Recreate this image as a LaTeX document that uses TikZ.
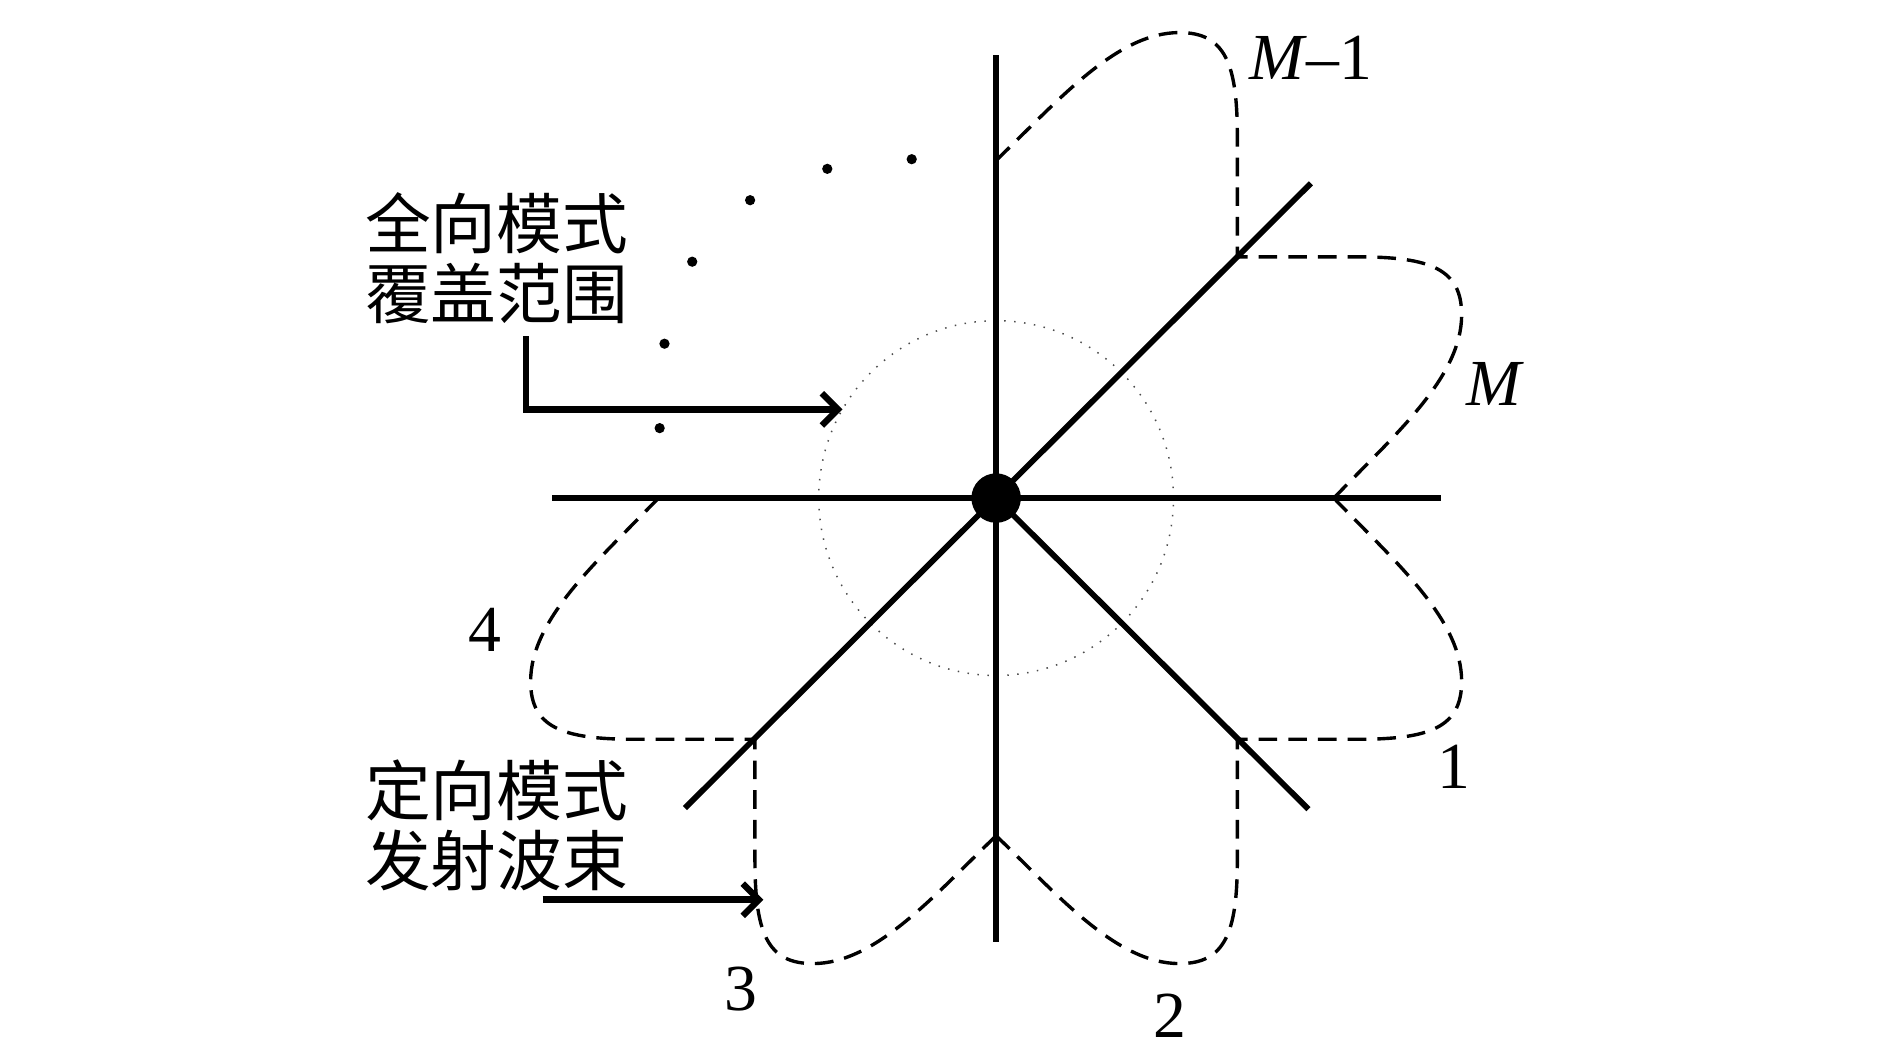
\documentclass[tikz,border=0pt]{standalone}
\usepackage{fontspec}
\setmainfont{Liberation Serif}
\newfontfamily\cjkfont{Noto Sans CJK SC}
\usetikzlibrary{arrows.meta}
\newcommand\lobepath{(280,0) .. controls (330,-52) and (386,-100) .. (386,-152) .. controls (386,-190) and (360,-200) .. (300,-200) -- (200,-200)}
\begin{document}
\begin{tikzpicture}[x=0.01cm,y=0.01cm,
  axis/.style={line width=1.35pt},
  lobe/.style={line width=0.8pt, dash pattern=on 4.4pt off 2.6pt},
  covstyle/.style={circle, draw=black!70, line width=0.35pt, dotted, minimum size=2.94cm, inner sep=0pt, outer sep=0pt},
  hub/.style={circle, fill=black, minimum size=0.41cm, inner sep=0pt},
  smalldot/.style={circle, fill=black, minimum size=0.085cm, inner sep=0pt},
  cjklabel/.style={font=\cjkfont\fontsize{15.5pt}{16.5pt}\selectfont, align=left, inner sep=0pt, anchor=west},
  num/.style={font=\fontsize{15.5pt}{18pt}\selectfont, inner sep=0pt},
  arr/.style={line width=1.5pt, -{Straight Barb[length=3.8pt,width=7.6pt]}}
]
\fill[white] (-826,-465) rectangle (742,413);
\useasboundingbox (-826,-465) rectangle (742,413);

% coverage circle
\node[covstyle] (cov) at (0,0) {};

% axis end points
\coordinate (W) at (-368,0);
\coordinate (E) at (369,0);
\coordinate (N) at (0,367);
\coordinate (S) at (0,-368);
\coordinate (NE) at (261,261);
\coordinate (SW) at (-258,-257);
\coordinate (SE) at (259,-258);
\coordinate (O) at (0,0);

\draw[axis] (W) -- (E);
\draw[axis] (N) -- (S);
\draw[axis] (NE) -- (SW);
\draw[axis] (O) -- (SE);

% lobes
\begin{scope}[cm={1,0,0,1,(0,0)}]\draw[lobe] \lobepath;\end{scope}
\begin{scope}[cm={1,0,0,-1,(0,0)}]\draw[lobe] \lobepath;\end{scope}
\begin{scope}[cm={0,-1,-1,0,(0,0)}]\draw[lobe] \lobepath;\end{scope}
\begin{scope}[cm={0,-1,1,0,(0,0)}]\draw[lobe] \lobepath;\end{scope}
\begin{scope}[cm={-1,0,0,1,(0,0)}]\draw[lobe] \lobepath;\end{scope}
\begin{scope}[cm={0,1,-1,0,(0,0)}]\draw[lobe] \lobepath;\end{scope}

% hub
\node[hub] (hub) at (0,0) {};

% dots
\node[smalldot] (d1) at (-279,58) {};
\node[smalldot] (d2) at (-275,128) {};
\node[smalldot] (d3) at (-252,196) {};
\node[smalldot] (d4) at (-204,247) {};
\node[smalldot] (d5) at (-140,273) {};
\node[smalldot] (d6) at (-70,281) {};

% labels
\node[cjklabel] (lab1) at (-524,199) {全向模式\\覆盖范围};
\node[cjklabel] (lab2) at (-524,-271) {定向模式\\发射波束};

\node[num] (lM1) at (261,365) {\textit{M}–1};
\node[num] (lM) at (414,95) {\textit{M}};
\node[num] (l1) at (380,-223) {1};
\node[num] (l2) at (144,-429) {2};
\node[num] (l3) at (-212,-407) {3};
\node[num] (l4) at (-424,-109) {4};

% arrows
\coordinate (a1s) at (-390,134);
\draw[arr] (a1s) |- (cov.150);
\coordinate (a2s) at (-376,-333);
\coordinate (a2e) at (-193,-333);
\draw[arr] (a2s) -- (a2e);
\end{tikzpicture}
\end{document}
